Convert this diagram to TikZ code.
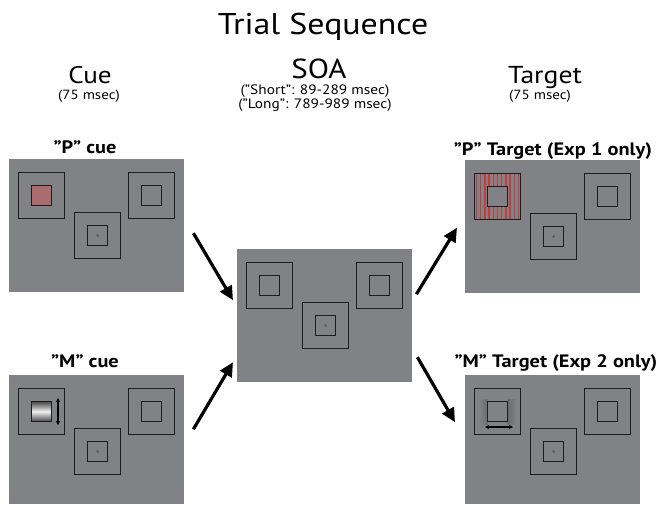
\documentclass[tikz,border=0pt]{standalone}
\usepackage{fontspec}
\setmainfont{PT Sans}[FakeStretch=1.13]
\usetikzlibrary{arrows.meta,calc,shapes.geometric}

\definecolor{panelgray}{RGB}{128,130,134}
\definecolor{sqline}{RGB}{30,28,30}
\definecolor{cuered}{RGB}{170,108,110}
\definecolor{stripered}{RGB}{196,60,62}
\definecolor{fixgray}{RGB}{95,95,100}

% outlines of the three placeholder boxes of one display, drawn from its top-left corner
\newcommand\placeholders[1]{%
  \begin{scope}[shift={(#1.north west)}]
    \foreach \ox/\oy in {9.5/13.5, 119.5/13.5, 65.5/53.5} {
      \draw[boxline] (\ox,\oy) rectangle ++(46,46);
      \draw[boxline] (\ox+13,\oy+13) rectangle ++(20,20);
    }
    \node[fixmark] at (88.5,76.5) {};
  \end{scope}}

\begin{document}
\begin{tikzpicture}[x=1pt,y=-1pt,
  display/.style={fill=panelgray, draw=none, inner sep=0, minimum width=175,
    minimum height=133, anchor=north west},
  shortdisplay/.style={display, minimum height=129},
  boxline/.style={draw=sqline, line width=1.6},
  fixmark/.style={star, star points=5, star point ratio=2.2, fill=fixgray,
    inner sep=0, minimum size=4},
  heading/.style={font=\fontsize{24}{28}\selectfont, anchor=base},
  subhead/.style={font=\fontsize{13.3}{14}\selectfont, anchor=base},
  paneltitle/.style={font=\bfseries\fontsize{18}{20}\selectfont, anchor=base},
  flow/.style={line width=3.2, draw=black, -{Triangle[length=14,width=13]}},
  motion/.style={line width=1.1, draw=black, {Stealth[length=4,width=4]}-{Stealth[length=4,width=4]}}]

\useasboundingbox (0,0) rectangle (662,504);

% headings
\node[heading, font=\fontsize{30}{34}\selectfont] (title) at (323,34) {Trial Sequence};
\node[heading] (cuehead) at (90,83) {Cue};
\node[subhead] (cuetime) at (89,99) {(75 msec)};
\node[heading, font=\fontsize{27.5}{30}\selectfont] (soahead) at (319,78) {SOA};
\node[subhead, font=\fontsize{13.6}{14}\selectfont] (soashort) at (315,94) {(”Short”: 89-289 msec)};
\node[subhead, font=\fontsize{13.6}{14}\selectfont] (soalong) at (315,108) {(”Long”: 789-989 msec)};
\node[heading, font=\fontsize{24.5}{28}\selectfont] (targethead) at (545,83) {Target};
\node[subhead] (targettime) at (540,99) {(75 msec)};

% display screens
\node[display] (cueP) at (9,159) {};
\node[shortdisplay] (cueM) at (9,375) {};
\node[display] (soa) at (237,249) {};
\node[display] (targetP) at (465,160) {};
\node[shortdisplay] (targetM) at (465,375) {};

% screen titles
\node[paneltitle] (cuePtitle) at (85,153) {”P” cue};
\node[paneltitle] (cueMtitle) at (85,367) {”M” cue};
\node[paneltitle] (targetPtitle) at (553,155.5) {”P” Target (Exp 1 only)};
\node[paneltitle] (targetMtitle) at (556,367) {”M” Target (Exp 2 only)};

% P cue: textured red inner box
\begin{scope}[shift={(cueP.north west)}]
  \fill[cuered] (22.5,26.5) rectangle ++(20,20);
\end{scope}

% M cue: shaded inner box with vertical motion arrow
\begin{scope}[shift={(cueM.north west)}]
  \shade[top color=gray!55!black, bottom color=gray!55!black, middle color=white!88!gray]
    (22.5,26.5) rectangle ++(20,20);
  \coordinate (cueMup) at (49,23);
  \coordinate (cueMdown) at (49,50);
\end{scope}
\draw[motion] (cueMup) -- (cueMdown);

% P target: red stripes filling the outer box
\begin{scope}[shift={(targetP.north west)}]
  \begin{scope}
    \clip (9.5,13.5) rectangle ++(46,46);
    \foreach \sx in {11.5,15.7,...,56} {
      \draw[stripered, line width=1.4] (\sx,13.5) -- (\sx,59.5);
    }
  \end{scope}
  \fill[panelgray] (22.5,26.5) rectangle ++(20,20);
\end{scope}

% M target: faint motion blur beside the inner box, horizontal motion arrow
\begin{scope}[shift={(targetM.north west)}]
  \shade[left color=panelgray, right color=panelgray!82!black] (14,24) rectangle (22.5,49);
  \shade[left color=panelgray!82!black, right color=panelgray] (42.5,24) rectangle (51,49);
  \coordinate (targetMleft) at (20,52);
  \coordinate (targetMright) at (48,52);
\end{scope}
\draw[motion] (targetMleft) -- (targetMright);

% placeholder outlines
\placeholders{cueP}
\placeholders{cueM}
\placeholders{soa}
\placeholders{targetP}
\placeholders{targetM}

% sequence arrows
\draw[flow] ($(cueP.east)+(9,7.5)$) -- ($(soa.west)+(-4,-15.5)$);
\draw[flow] ($(cueM.east)+(9,-10.5)$) -- ($(soa.west)+(-4,46.5)$);
\draw[flow] ($(soa.east)+(4,-21.5)$) -- ($(targetP.west)+(-8,1)$);
\draw[flow] ($(soa.east)+(5,41.5)$) -- ($(targetM.west)+(-10,-17.5)$);

\end{tikzpicture}
\end{document}
